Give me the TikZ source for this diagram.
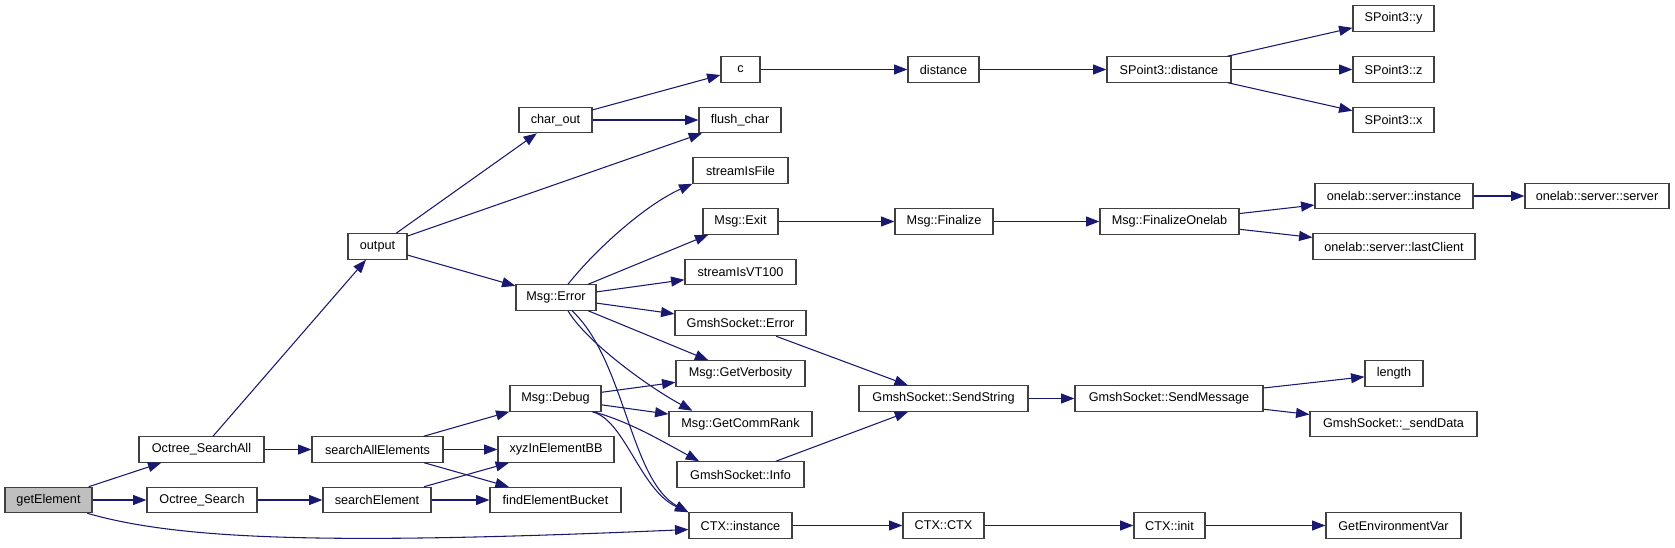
\documentclass[tikz,border=0pt]{standalone}
\usepackage{fontspec}
\setmainfont{Liberation Sans}
\usetikzlibrary{arrows.meta}
\definecolor{edgeblue}{HTML}{191970}
\definecolor{rootgray}{HTML}{BFBFBF}

\begin{document}
\begin{tikzpicture}[x=0.75pt, y=-0.75pt,
  func/.style={draw=black!75, line width=0.9pt, fill=white, minimum width=#1*0.75pt, minimum height=19pt, inner sep=0pt, font=\fontsize{9.5}{11}\selectfont},
  call/.style={-{Triangle[length=10pt,width=7.5pt]}, draw=edgeblue, line width=0.8pt}
]
\useasboundingbox (0,0) rectangle (1675,547);

% column 1-3
\node[func=87, fill=rootgray] (get) at (48.5,500) {getElement};
\node[func=125] (osall) at (201.5,449.5) {Octree\_SearchAll};
\node[func=110] (os) at (202,500) {Octree\_Search};
\node[func=131] (sall) at (377.5,449.5) {searchAllElements};
\node[func=108] (sel) at (377,500) {searchElement};
\node[func=59] (output) at (377.5,246.5) {output};

% column 4
\node[func=73] (charout) at (555.5,120) {char\_out};
\node[func=80] (err) at (556,297.5) {Msg::Error};
\node[func=91] (dbg) at (555.5,398.5) {Msg::Debug};
\node[func=116] (xyz) at (556,449.5) {xyzInElementBB};
\node[func=131] (feb) at (555.5,500) {findElementBucket};

% column 5
\node[func=39] (c) at (740.5,69.5) {c};
\node[func=82] (flush) at (740,120) {flush\_char};
\node[func=95] (sfile) at (740.5,170.5) {streamIsFile};
\node[func=75] (exit) at (740.5,221.5) {Msg::Exit};
\node[func=111] (vt) at (740.5,272) {streamIsVT100};
\node[func=131] (gserr) at (740.5,323) {GmshSocket::Error};
\node[func=129] (verb) at (740.5,373.5) {Msg::GetVerbosity};
\node[func=143] (rank) at (740.5,424) {Msg::GetCommRank};
\node[func=127] (ginfo) at (740.5,474.5) {GmshSocket::Info};
\node[func=103] (ctxi) at (740.5,525.5) {CTX::instance};

% column 6
\node[func=71] (dist) at (943.5,69.5) {distance};
\node[func=98] (fin) at (944,221.5) {Msg::Finalize};
\node[func=169] (sstr) at (943.5,398.5) {GmshSocket::SendString};
\node[func=81] (ctxc) at (943.5,525.5) {CTX::CTX};

% column 7
\node[func=124] (spd) at (1169,69.5) {SPoint3::distance};
\node[func=139] (fonl) at (1169.5,221.5) {Msg::FinalizeOnelab};
\node[func=188] (smsg) at (1169,398.5) {GmshSocket::SendMessage};
\node[func=71] (ctxinit) at (1169.5,525.5) {CTX::init};

% column 8-9
\node[func=81] (spy) at (1393.5,18.5) {SPoint3::y};
\node[func=81] (spz) at (1393.5,69.5) {SPoint3::z};
\node[func=81] (spx) at (1393.5,120) {SPoint3::x};
\node[func=158] (oinst) at (1394,196) {onelab::server::instance};
\node[func=162] (olast) at (1394,246.5) {onelab::server::lastClient};
\node[func=58] (len) at (1394,373.5) {length};
\node[func=167] (sdata) at (1393.5,424) {GmshSocket::\_sendData};
\node[func=135] (genv) at (1393.5,525.5) {GetEnvironmentVar};
\node[func=144] (osrv) at (1597,196) {onelab::server::server};

% calls
\draw[call] (get) -- (osall);
\draw[call] (get) -- (os);
\draw[call] ([xshift=-4pt]get.south east) .. controls (180,540) and (330,545) .. ([yshift=-3pt]ctxi.west);
\draw[call] (osall) -- (output);
\draw[call] (osall) -- (sall);
\draw[call] (os) -- (sel);
\draw[call] (sall) -- (dbg);
\draw[call] (sall) -- (xyz);
\draw[call] (sall) -- (feb);
\draw[call] (sel) -- (xyz);
\draw[call] (sel) -- (feb);
\draw[call] (output) -- (charout);
\draw[call] (output) -- (flush);
\draw[call] (output) -- (err);
\draw[call] (charout) -- (c);
\draw[call] (charout) -- (flush);
\draw[call] (c) -- (dist);
\draw[call] (dist) -- (spd);
\draw[call] (spd) -- (spy);
\draw[call] (spd) -- (spz);
\draw[call] (spd) -- (spx);
\draw[call] ([xshift=9pt]err.north) .. controls (595,250) and (645,205) .. (sfile.south west);
\draw[call] (err) -- (exit);
\draw[call] (err) -- (vt);
\draw[call] (err) -- (gserr);
\draw[call] (err) -- (verb);
\draw[call] ([xshift=9pt]err.south) .. controls (585,340) and (645,385) .. ([xshift=18pt]rank.north west);
\draw[call] ([xshift=12pt]err.south) .. controls (625,360) and (630,480) .. (ctxi.north west);
\draw[call] (exit) -- (fin);
\draw[call] (fin) -- (fonl);
\draw[call] (fonl) -- (oinst);
\draw[call] (fonl) -- (olast);
\draw[call] (oinst) -- (osrv);
\draw[call] (dbg) -- (verb);
\draw[call] (dbg) -- (rank);
\draw[call] ([xshift=-6pt]dbg.south east) .. controls (630,422) and (660,440) .. ([xshift=17pt]ginfo.north west);
\draw[call] ([xshift=-7pt]dbg.south east) .. controls (625,420) and (640,490) .. (ctxi.north west);
\draw[call] (gserr) -- (sstr);
\draw[call] (ginfo) -- (sstr);
\draw[call] (sstr) -- (smsg);
\draw[call] (smsg) -- (len);
\draw[call] (smsg) -- (sdata);
\draw[call] (ctxi) -- (ctxc);
\draw[call] (ctxc) -- (ctxinit);
\draw[call] (ctxinit) -- (genv);
\end{tikzpicture}
\end{document}
